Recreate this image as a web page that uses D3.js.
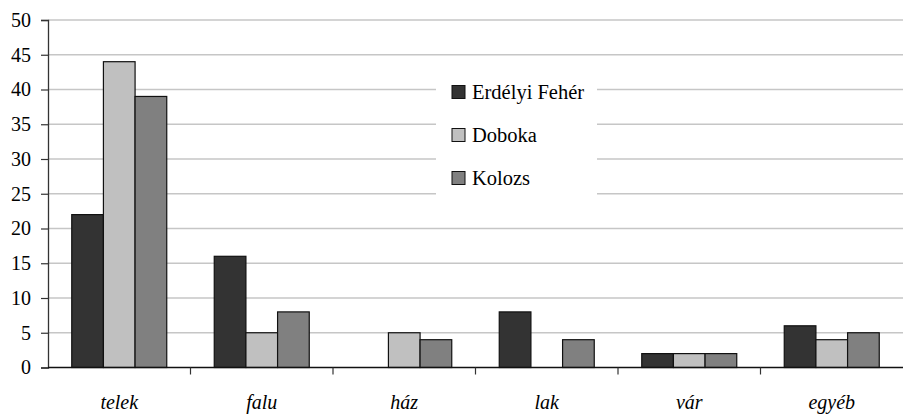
<!DOCTYPE html>
<html>
<head>
<meta charset="utf-8">
<script src="https://cdn.jsdelivr.net/npm/d3@7/dist/d3.min.js"></script>
<style>
  body { margin: 0; background: #fff; }
  svg { display: block; }
</style>
</head>
<body>
<div id="chart"></div>
<script>
const categories = ['telek', 'falu', 'ház', 'lak', 'vár', 'egyéb'];
const seriesNames = ['Erdélyi Fehér', 'Doboka', 'Kolozs'];
const erdelyiFeher = [22, 16, 0, 8, 2, 6];
const doboka = [44, 5, 5, 0, 2, 4];
const kolozs = [39, 8, 4, 4, 2, 5];
const yTicks = [0, 5, 10, 15, 20, 25, 30, 35, 40, 45, 50];

const seriesValues = [erdelyiFeher, doboka, kolozs];
const colors = ['#333333', '#c0c0c0', '#808080'];
const serif = '"Liberation Serif", "Times New Roman", "DejaVu Serif", serif';

const width = 903, height = 415;
const margin = { top: 20, right: 0, bottom: 47.5, left: 48 };
const innerWidth = width - margin.left - margin.right;
const innerHeight = height - margin.top - margin.bottom;

const svg = d3.select('#chart').append('svg')
  .attr('width', width)
  .attr('height', height)
  .attr('font-family', serif);

const g = svg.append('g').attr('transform', `translate(${margin.left},${margin.top})`);

const x = d3.scaleBand().domain(categories).range([0, innerWidth]);
// gap width 150%: band = 4.5 bar widths
const barW = x.bandwidth() / 4.5;
const x1 = d3.scaleBand().domain(seriesNames).range([barW * 0.75, barW * 3.75]);
const y = d3.scaleLinear().domain([0, 50]).range([innerHeight, 0]);

// gridlines
g.append('g')
  .selectAll('line')
  .data(yTicks.filter(d => d > 0))
  .enter().append('line')
  .attr('x1', 0).attr('x2', innerWidth)
  .attr('y1', d => y(d)).attr('y2', d => y(d))
  .attr('stroke', '#c6c6c6')
  .attr('stroke-width', 1.3);

// bars
const groups = g.selectAll('.grp')
  .data(categories)
  .enter().append('g')
  .attr('class', 'grp')
  .attr('transform', d => `translate(${x(d)},0)`);

groups.selectAll('rect')
  .data((c, i) => seriesNames.map((s, k) => ({ s, k, v: seriesValues[k][i] })).filter(d => d.v > 0))
  .enter().append('rect')
  .attr('x', d => x1(d.s))
  .attr('width', x1.bandwidth())
  .attr('y', d => y(d.v))
  .attr('height', d => y(0) - y(d.v))
  .attr('fill', d => colors[d.k])
  .attr('stroke', '#111')
  .attr('stroke-width', 1.2);

// y axis
const yAxis = g.append('g')
  .call(d3.axisLeft(y).tickValues(yTicks).tickSize(7).tickPadding(10))
  .attr('font-family', serif)
  .attr('font-size', 20);
yAxis.select('.domain').attr('stroke', '#333').attr('stroke-width', 1.3);
yAxis.selectAll('.tick line').attr('stroke', '#333').attr('stroke-width', 1.2);
yAxis.selectAll('text').attr('fill', '#000');

// x axis
const xAxisG = g.append('g').attr('transform', `translate(0,${innerHeight})`);
xAxisG.append('line')
  .attr('x1', 0).attr('x2', innerWidth)
  .attr('stroke', '#111').attr('stroke-width', 1.3);
xAxisG.selectAll('.ctick')
  .data(categories.slice(1))
  .enter().append('line')
  .attr('x1', d => x(d)).attr('x2', d => x(d))
  .attr('y1', 0).attr('y2', 7)
  .attr('stroke', '#333').attr('stroke-width', 1.2);
xAxisG.selectAll('.clabel')
  .data(categories)
  .enter().append('text')
  .attr('x', d => x(d) + x.bandwidth() / 2)
  .attr('y', 41)
  .attr('text-anchor', 'middle')
  .attr('font-style', 'italic')
  .attr('font-size', 20)
  .text(d => d);

// legend
const legend = g.append('g').attr('transform', `translate(${436 - margin.left},${64 - margin.top})`);
legend.append('rect')
  .attr('width', 161).attr('height', 142)
  .attr('fill', '#fff');
const items = legend.selectAll('.item')
  .data(seriesNames)
  .enter().append('g')
  .attr('transform', (d, i) => `translate(16,${28 + i * 43})`);
items.append('rect')
  .attr('x', 0).attr('y', -6.5)
  .attr('width', 13).attr('height', 13)
  .attr('fill', (d, i) => colors[i])
  .attr('stroke', '#111').attr('stroke-width', 1);
items.append('text')
  .attr('x', 20).attr('y', 7)
  .attr('font-size', 20.5)
  .text(d => d);
</script>
</body>
</html>
